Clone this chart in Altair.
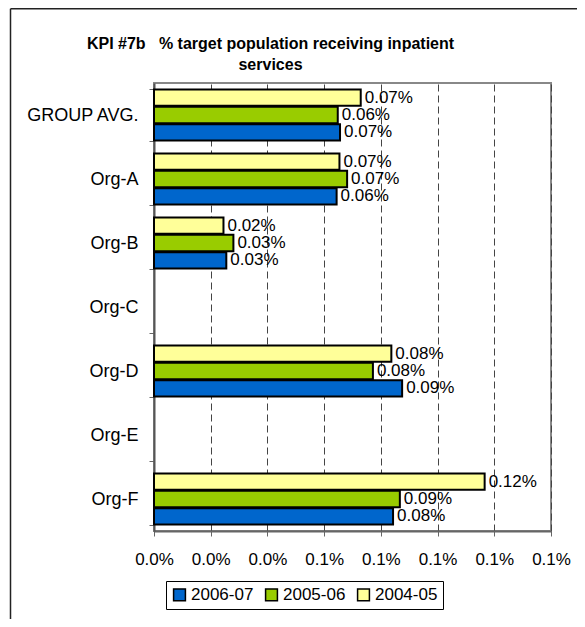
import altair as alt
import pandas as pd

FONT = "Liberation Sans"

categories = ["GROUP AVG.", "Org-A", "Org-B", "Org-C", "Org-D", "Org-E", "Org-F"]
series = ["2006-07", "2005-06", "2004-05"]
colors = ["#0066CC", "#99CC00", "#FFFF99"]

# values in percent (None = no data)
v_2006_07 = [0.0656, 0.0644, 0.0255, None, 0.0875, None, 0.0843]
v_2005_06 = [0.0648, 0.0681, 0.0280, None, 0.0772, None, 0.0867]
v_2004_05 = [0.0729, 0.0654, 0.0245, None, 0.0837, None, 0.1166]

x_ticks = [0, 0.02, 0.04, 0.06, 0.08, 0.10, 0.12, 0.14]

rows = []
for s, vals in zip(series, [v_2006_07, v_2005_06, v_2004_05]):
    for c, v in zip(categories, vals):
        if v is not None:
            rows.append({"org": c, "year": s, "value": v / 100})
df = pd.DataFrame(rows)

x_enc = alt.X(
    "value:Q",
    scale=alt.Scale(domain=[0, 0.0014], nice=False, zero=True),
    axis=alt.Axis(
        values=[round(t / 100, 6) for t in x_ticks],
        format=".1%",
        title=None,
        grid=True,
        gridDash=[7, 4],
        gridColor="#444444",
        gridWidth=1,
        tickSize=5,
        tickColor="#666666",
        domainColor="#666666",
        domainWidth=2,
        labelPadding=15,
        labelOverlap=False,
        labelFlush=False,
        labelBound=False,
        labelFontSize=17,
    ),
)
y_enc = alt.Y(
    "org:N",
    scale=alt.Scale(domain=categories, paddingInner=0.2, paddingOuter=0.1),
    axis=alt.Axis(
        title=None,
        tickBand="extent",
        tickSize=5,
        tickColor="#666666",
        domainColor="#555555",
        domainWidth=2,
        labelPadding=11,
        labelFontSize=18,
        grid=False,
    ),
)
yoff_enc = alt.YOffset(
    "year:N", scale=alt.Scale(domain=series[::-1], paddingInner=0.06)
)

bars = alt.Chart(df).mark_bar(stroke="black", strokeWidth=2).encode(
    x=x_enc,
    y=y_enc,
    yOffset=yoff_enc,
    color=alt.Color(
        "year:N",
        scale=alt.Scale(domain=series, range=colors),
        legend=alt.Legend(
            orient="none",
            legendX=12,
            legendY=498,
            direction="horizontal",
            title=None,
            symbolType="square",
            symbolSize=140,
            symbolStrokeColor="black",
            symbolStrokeWidth=1.5,
            labelFont=FONT,
            labelFontSize=17,
            labelColor="black",
            labelOffset=3,
            columnPadding=8,
            strokeColor="black",
            fillColor="white",
            padding=5,
        ),
    ),
)

labels = alt.Chart(df).mark_text(
    align="left", baseline="middle", dx=4, fontSize=17, font=FONT, color="black"
).encode(
    x="value:Q",
    y=alt.Y("org:N"),
    yOffset=alt.YOffset("year:N"),
    text=alt.Text("value:Q", format=".2%"),
)

frame_df = pd.DataFrame({"a": [0]})
frame_top = alt.Chart(frame_df).mark_rule(color="#222222", strokeWidth=1.5).encode(
    x=alt.value(-143.5), x2=alt.value(1000), y=alt.value(-74.2)
)
frame_left = alt.Chart(frame_df).mark_rule(color="#222222", strokeWidth=1.5).encode(
    x=alt.value(-143.5), y=alt.value(-74.2), y2=alt.value(1000)
)

chart = alt.layer(bars, labels, frame_top, frame_left).properties(
    width=397,
    height=448,
    padding={"left": 146, "top": 75, "right": 26, "bottom": 88},
    autosize=alt.AutoSizeParams(type="none"),
    title=alt.TitleParams(
        ["KPI #7b\u00a0\u00a0 % target population receiving inpatient", "services"],
        font=FONT,
        fontSize=16,
        fontWeight="bold",
        color="black",
        anchor="middle",
        frame="group",
        dx=-82,
        baseline="bottom",
        offset=0,
        dy=81,
        lineHeight=21,
    ),
).configure_view(stroke="#888888", strokeWidth=2).configure_axis(
    labelFont=FONT, labelColor="black"
)

chart.save("out.html", embed_options={"renderer": "svg", "actions": False})
